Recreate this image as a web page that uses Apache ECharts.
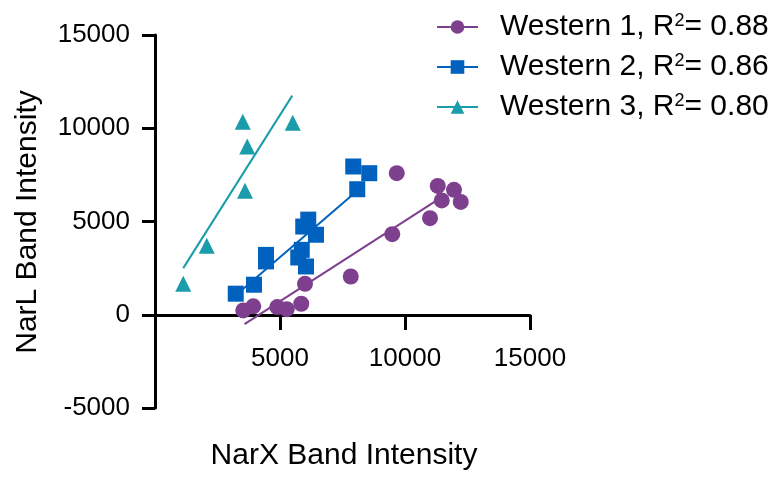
<!DOCTYPE html>
<html>
<head>
<meta charset="utf-8">
<script src="https://cdn.jsdelivr.net/npm/echarts@6/dist/echarts.min.js"></script>
<style>
  html, body { margin: 0; padding: 0; background: #fff; }
  #chart { width: 778px; height: 481px; }
</style>
</head>
<body>
<div id="chart"></div>
<script>
// Series names and R² values shown in the legend
const seriesNames = ['Western 1', 'Western 2', 'Western 3'];
const r2Values = ['0.88', '0.86', '0.80'];

// NarX (x) and NarL (y) band intensities per western blot
const w1X = [3530, 3930, 4890, 5270, 5850, 6000, 7830, 9490, 9670, 11000, 11310, 11470, 11960, 12230];
const w1Y = [230, 450, 410, 300, 590, 1660, 2050, 4320, 7590, 5180, 6910, 6130, 6700, 6050];

const w2X = [3230, 3960, 4440, 4440, 5870, 5730, 6040, 5930, 6130, 6440, 7930, 8570, 8090];
const w2Y = [1130, 1610, 3210, 2860, 3480, 3070, 2590, 4730, 5100, 4290, 7950, 7590, 6730];

const w3X = [1130, 2070, 3510, 3690, 3600, 5510];
const w3Y = [1660, 3700, 10350, 9020, 6650, 10300];

// Linear fit segments (start and end of each regression line)
const fit1 = [[3580, -500], [11270, 6130]];
const fit2 = [[3230, 1050], [8090, 6650]];
const fit3 = [[1130, 2500], [5490, 11750]];

// Axis ranges and tick step
const xRange = [0, 15000];
const yRange = [-5000, 15000];
const tickStep = 5000;

const colors = ['#7E3F8E', '#0062BE', '#1A9CAA'];
const symbols = ['circle', 'rect', 'triangle'];
const font = '"Liberation Sans", Arial, Helvetica, sans-serif';

const pts = [
  w1X.map((x, i) => [x, w1Y[i]]),
  w2X.map((x, i) => [x, w2Y[i]]),
  w3X.map((x, i) => [x, w3Y[i]])
];
const fits = [fit1, fit2, fit3];

const lineSeries = seriesNames.map((name, i) => ({
  name: name,
  type: 'line',
  data: fits[i],
  symbol: symbols[i],
  showSymbol: false,
  color: colors[i],
  lineStyle: { color: colors[i], width: 2 },
  itemStyle: { color: colors[i] },
  z: 2,
  silent: true,
  animation: false
}));

const scatterSeries = seriesNames.map((name, i) => ({
  name: name,
  type: 'scatter',
  data: pts[i],
  symbol: symbols[i],
  symbolSize: 16,
  itemStyle: { color: colors[i], opacity: 1 },
  z: 3,
  animation: false
}));

const axisLineStyle = { color: '#000', width: 3 };

const chart = echarts.init(document.getElementById('chart'), null, { renderer: 'canvas' });
chart.setOption({
  backgroundColor: '#fff',
  animation: false,
  grid: { left: 155, right: 248, top: 35, bottom: 73, containLabel: false },
  xAxis: {
    type: 'value',
    min: xRange[0], max: xRange[1], interval: tickStep,
    // the x axis sits on y = 0, which is 93px above the plot bottom
    offset: -93,
    axisLine: { show: true, onZero: false, lineStyle: axisLineStyle },
    axisTick: { show: true, length: 15, lineStyle: axisLineStyle },
    splitLine: { show: false },
    axisLabel: {
      color: '#000', fontSize: 26, fontFamily: font, margin: 31,
      formatter: v => (v === 0 ? '' : String(v))
    }
  },
  yAxis: {
    type: 'value',
    min: yRange[0], max: yRange[1], interval: tickStep,
    axisLine: { show: true, onZero: false, lineStyle: axisLineStyle },
    axisTick: { show: true, length: 13, lineStyle: axisLineStyle },
    splitLine: { show: false },
    axisLabel: {
      color: '#000', fontSize: 26, fontFamily: font, margin: 25,
      formatter: v => String(v)
    }
  },
  legend: {
    orient: 'vertical',
    left: 436,
    top: 12,
    padding: 0,
    itemWidth: 41,
    itemHeight: 17,
    itemGap: 10,
    data: seriesNames,
    formatter: name => {
      const i = seriesNames.indexOf(name);
      return '{t|' + name + ', R}{s|2}{t|= ' + r2Values[i] + '}';
    },
    textStyle: {
      color: '#000', fontSize: 30, fontFamily: font,
      padding: [0, 0, 0, 17],
      rich: {
        t: { color: '#000', fontSize: 30, fontFamily: font },
        s: { color: '#000', fontSize: 18, fontFamily: font, verticalAlign: 'top' }
      }
    },
    selectedMode: false
  },
  graphic: [
    {
      type: 'text',
      x: 344, y: 456,
      style: {
        text: 'NarX Band Intensity', fill: '#000', font: '30px ' + font,
        textAlign: 'center', textVerticalAlign: 'middle'
      }
    },
    {
      type: 'text',
      x: 28, y: 222,
      rotation: Math.PI / 2,
      style: {
        text: 'NarL Band Intensity', fill: '#000', font: '30px ' + font,
        textAlign: 'center', textVerticalAlign: 'middle'
      }
    }
  ],
  series: lineSeries.concat(scatterSeries)
});
</script>
</body>
</html>
